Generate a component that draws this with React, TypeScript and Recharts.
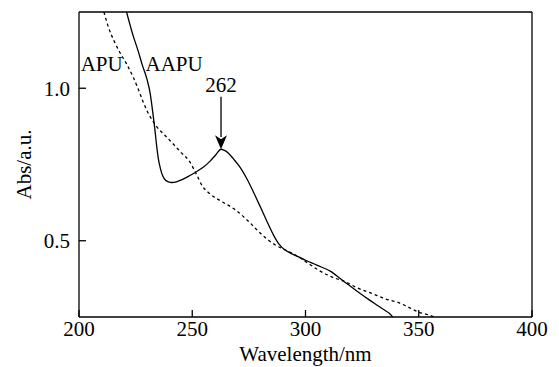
import { LineChart, Line, XAxis, YAxis, ReferenceLine, ReferenceDot } from 'recharts';

const font = 'Liberation Serif';
const fs = 21;

// AAPU (solid)
const aapuWl = [221, 224, 226, 228, 230, 231.5, 232.5, 233.5, 234.3, 235, 236, 237, 238, 239.5, 241, 243, 246, 249, 252, 255, 258, 260.5, 262.7, 264, 266, 268, 271, 274, 277, 280, 283, 286, 288.5, 290.5, 293, 297, 300, 305, 311.5, 316, 320, 324, 328, 332, 335, 337, 338.5];
const aapuAbs = [1.25, 1.17, 1.125, 1.075, 1.03, 0.98, 0.925, 0.865, 0.81, 0.77, 0.735, 0.712, 0.7, 0.693, 0.691, 0.693, 0.702, 0.714, 0.727, 0.742, 0.762, 0.783, 0.8, 0.797, 0.787, 0.77, 0.742, 0.705, 0.66, 0.612, 0.563, 0.517, 0.487, 0.472, 0.461, 0.447, 0.436, 0.42, 0.398, 0.372, 0.35, 0.328, 0.307, 0.287, 0.272, 0.262, 0.25];

// APU (dashed)
const apuWl = [211, 213, 215.8, 218, 221, 224, 226, 228.5, 231, 234, 238, 241.5, 245, 248.8, 251.7, 254.6, 257.6, 263.4, 269.3, 275.2, 281, 286.9, 291.3, 297, 301, 305.9, 311.8, 317.7, 323, 329.4, 335, 341.1, 346, 350, 354, 357];
const apuAbs = [1.25, 1.2, 1.15, 1.118, 1.08, 1.035, 1.0, 0.952, 0.912, 0.877, 0.845, 0.818, 0.79, 0.76, 0.72, 0.678, 0.655, 0.627, 0.6, 0.561, 0.518, 0.485, 0.469, 0.447, 0.427, 0.403, 0.381, 0.365, 0.345, 0.327, 0.31, 0.297, 0.28, 0.266, 0.258, 0.25];

const xTicks = [200, 250, 300, 350, 400];
const yTicks = [0.5, 1.0];

const peakWl = 262.7;
const peakAbs = 0.8;

const aapu = aapuWl.map((x, i) => ({ x, y: aapuAbs[i] }));
const apu = apuWl.map((x, i) => ({ x, y: apuAbs[i] }));

const Txt = (label: string) => (p: any) => (
  <text x={p.cx} y={p.cy} textAnchor="middle" dominantBaseline="central" fill="#000" fontFamily={font} fontSize={fs}>
    {label}
  </text>
);

const ArrowHead = (p: any) => (
  <polygon
    points={`${p.cx},${p.cy} ${p.cx - 6},${p.cy - 14} ${p.cx},${p.cy - 10} ${p.cx + 6},${p.cy - 14}`}
    fill="#000"
  />
);

export default function App() {
  return (
    <div style={{ position: 'absolute', left: 0, top: 0, background: '#fff' }}>
      <LineChart width={559} height={367} margin={{ top: 12, right: 27, left: 0, bottom: 0 }}>
        <XAxis
          type="number"
          dataKey="x"
          domain={[200, 400]}
          ticks={xTicks}
          allowDataOverflow
          height={50}
          tickSize={-7}
          tickMargin={11}
          stroke="#000"
          strokeWidth={1.3}
          tick={{ fill: '#000', fontFamily: font, fontSize: fs }}
          label={{ value: 'Wavelength/nm', position: 'insideBottom', offset: 6, fill: '#000', fontFamily: font, fontSize: fs }}
        />
        <YAxis
          type="number"
          domain={[0.25, 1.25]}
          ticks={yTicks}
          allowDataOverflow
          width={79}
          tickSize={-7}
          tickMargin={16}
          tickFormatter={(v: number) => v.toFixed(1)}
          stroke="#000"
          strokeWidth={1.3}
          tick={{ fill: '#000', fontFamily: font, fontSize: fs }}
          label={{ value: 'Abs/a.u.', angle: -90, position: 'insideLeft', offset: 24, fill: '#000', fontFamily: font, fontSize: fs, style: { textAnchor: 'middle' } }}
        />
        <ReferenceLine y={1.25} stroke="#000" strokeWidth={1.3} />
        <ReferenceLine x={400} stroke="#000" strokeWidth={1.3} />
        <Line data={apu} dataKey="y" type="monotone" stroke="#000" strokeWidth={1.3} strokeDasharray="3 3" dot={false} isAnimationActive={false} />
        <Line data={aapu} dataKey="y" type="monotone" stroke="#000" strokeWidth={1.3} dot={false} isAnimationActive={false} />
        <ReferenceLine segment={[{ x: peakWl, y: 0.972 }, { x: peakWl, y: 0.84 }]} stroke="#000" strokeWidth={1.3} />
        <ReferenceDot x={peakWl} y={peakAbs} r={0} shape={ArrowHead} />
        <ReferenceDot x={210} y={1.08} r={0} shape={Txt('APU')} />
        <ReferenceDot x={242} y={1.08} r={0} shape={Txt('AAPU')} />
        <ReferenceDot x={peakWl} y={1.01} r={0} shape={Txt(String(262))} />
      </LineChart>
    </div>
  );
}
